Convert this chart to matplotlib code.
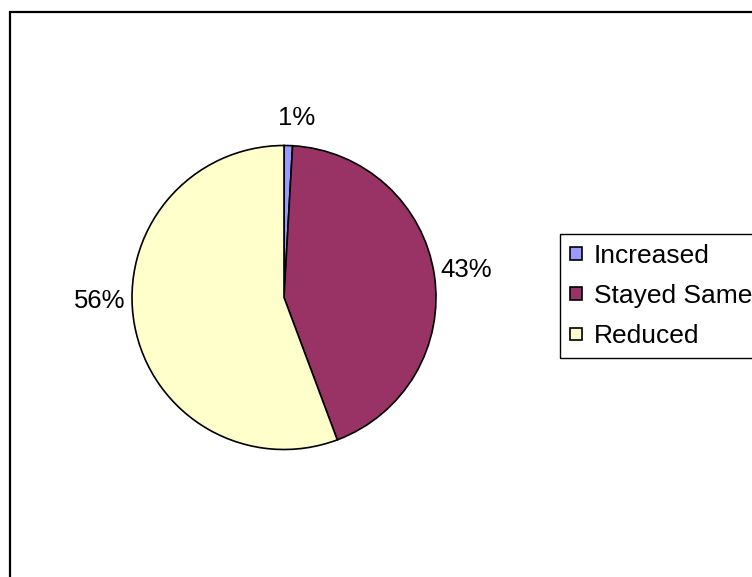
import matplotlib
matplotlib.use("Agg")
import matplotlib.pyplot as plt
from matplotlib.patches import Rectangle

categories = ["Increased", "Stayed Same", "Reduced"]
values = [0.9, 43.4, 55.7]
colors = ["#9999FF", "#993366", "#FFFFCC"]

plt.rcParams['font.family'] = ['Liberation Sans', 'DejaVu Sans']

W, H = 752, 577
fig = plt.figure(figsize=(W/100, H/100), dpi=100)

# Figure border (cut off at right and bottom)
fig.patches.append(Rectangle((10/W, -0.1), 1.2, 1 - 12/H + 0.1, transform=fig.transFigure,
                             fill=False, edgecolor='black', linewidth=1.6, zorder=0))

cx, cy, r = 284, 297.5, 152
ax = fig.add_axes([(cx - r)/W, (H - cy - r)/H, 2*r/W, 2*r/H])
wedges, texts, autotexts = ax.pie(values, colors=colors, startangle=90, counterclock=False,
                                  autopct='%1.0f%%', pctdistance=1.21,
                                  wedgeprops=dict(edgecolor='black', linewidth=1.2),
                                  textprops=dict(fontsize=18.5, color='black'))
# Excel "best fit" label placement
autotexts[0].set_position((0.08, 1.18))
autotexts[2].set_position((-1.215, -0.02))
ax.set_xlim(-1, 1)
ax.set_ylim(-1, 1)
ax.set_aspect('equal')
ax.axis('off')

leg = fig.legend(wedges, categories, loc='upper left', bbox_to_anchor=(560/W, 1 - 234/H),
                 borderaxespad=0, fontsize=19, frameon=True, fancybox=False,
                 edgecolor='black', framealpha=1, handlelength=0.47, handleheight=0.35,
                 handletextpad=0.45, labelspacing=0.62, borderpad=0.37)
leg.get_frame().set_linewidth(1.0)

fig.savefig("out.png", dpi=100)
